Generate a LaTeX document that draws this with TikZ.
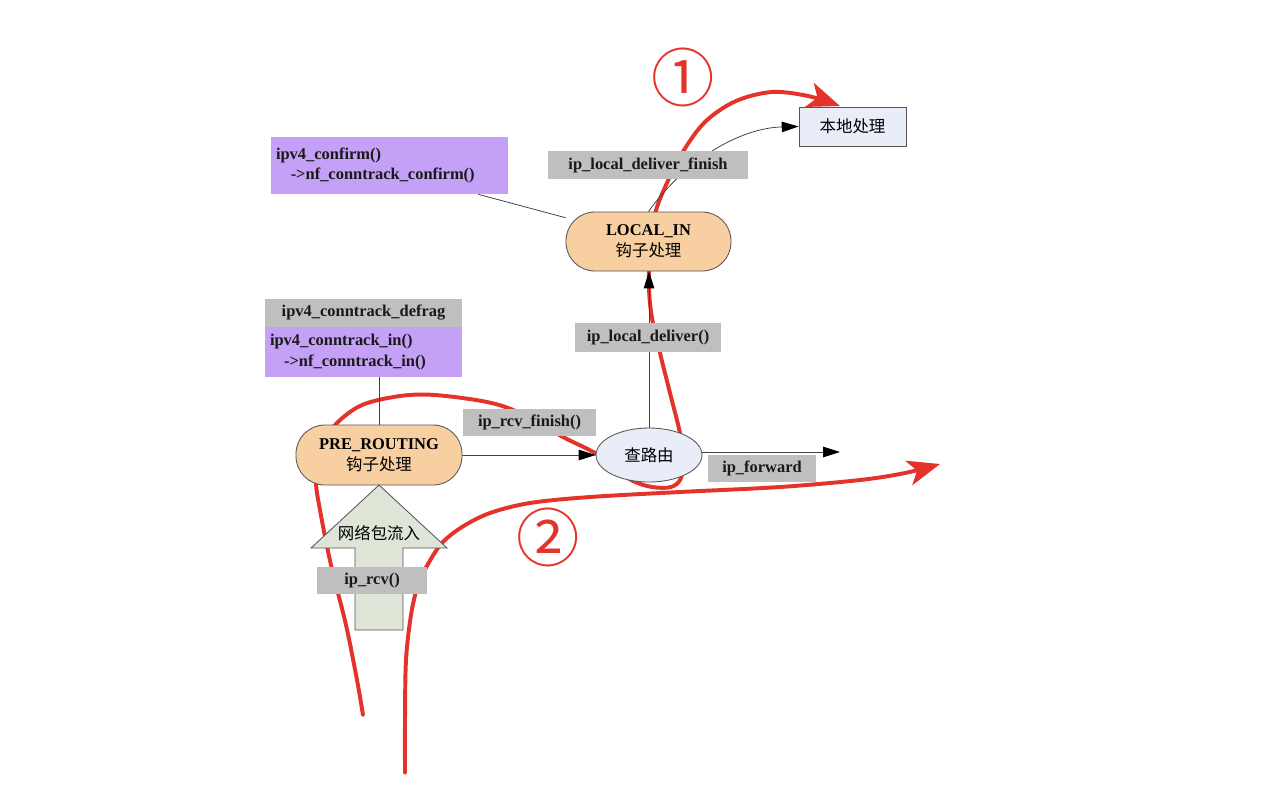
\documentclass[tikz,border=0pt]{standalone}
\usepackage{fontspec}
\setmainfont{Liberation Serif}
\newfontfamily\cjk{Noto Sans CJK SC}
\usetikzlibrary{arrows.meta,calc,shapes.geometric}
\definecolor{lblgray}{HTML}{BFBFBF}
\definecolor{purp}{HTML}{C4A0F6}
\definecolor{peach}{HTML}{F8CFA0}
\definecolor{lblue}{HTML}{E8EDF8}
\definecolor{pale}{HTML}{DEE5D6}
\definecolor{redc}{HTML}{E4332B}
\definecolor{edgec}{HTML}{555555}
\pgfdeclarelayer{back}
\pgfdeclarelayer{mid}
\pgfsetlayers{back,mid,main}
\newcommand{\lf}{\fontsize{11.7pt}{14.8pt}\selectfont}
\newcommand{\cf}{\cjk\fontsize{11.7pt}{14.8pt}\selectfont}
\begin{document}
\begin{tikzpicture}[x=0.025cm,y=-0.025cm,
  lbl/.style={fill=lblgray, inner sep=0pt, font=\lf\bfseries, text=black!90},
  purpbox/.style={fill=purp, inner xsep=5*0.025cm, inner ysep=0pt, font=\lf\bfseries, align=left, text=black!90},
  hook/.style={draw=edgec, fill=peach, rounded corners=0.72cm, line width=0.6pt, align=center, inner sep=0pt, font=\lf},
  conn/.style={draw=black!75, line width=0.55pt},
  tip/.style={-{Triangle[length=12pt,width=7.5pt,color=black,fill=black]}},
  redpath/.style={draw=redc, line width=2.8pt, line cap=round},
  redtip/.style={-{Stealth[length=23pt,width=18pt,inset=6pt]}},
  circnum/.style={text=redc, font=\cjk\fontsize{45pt}{45pt}\selectfont, inner sep=0pt}
]
\useasboundingbox (0,0) rectangle (1280,798);

% nodes
\node[purpbox, text width=227*0.025cm, minimum height=57*0.025cm] (conf) at (389.5,165.5)
  {ipv4\_confirm()\\\hspace*{10.5pt}->nf\_conntrack\_confirm()};
\node[lbl, minimum width=200*0.025cm, minimum height=28*0.025cm] (ldf) at (648,165) {ip\_local\_deliver\_finish};
\node[draw=edgec, fill=lblue, line width=0.6pt, minimum width=107*0.025cm, minimum height=39*0.025cm, inner sep=0pt, font=\cf] (local) at (852.5,126.5) {本地处理};
\node[hook, minimum width=165*0.025cm, minimum height=59*0.025cm] (localin) at (648.5,241.5)
  {\bfseries LOCAL\_IN\\{\cf 钩子处理}};
\node[lbl, minimum width=146*0.025cm, minimum height=29*0.025cm] (ld) at (648,337.5) {ip\_local\_deliver()};
\node[lbl, minimum width=197*0.025cm, minimum height=28*0.025cm] (defrag) at (363.5,313) {ipv4\_conntrack\_defrag};
\node[purpbox, text width=187*0.025cm, minimum height=50*0.025cm] (cin) at (363.5,352)
  {ipv4\_conntrack\_in()\\\hspace*{10pt}->nf\_conntrack\_in()};
\node[hook, minimum width=166*0.025cm, minimum height=60*0.025cm] (pre) at (379,455)
  {\bfseries PRE\_ROUTING\\{\cf 钩子处理}};
\node[lbl, minimum width=133*0.025cm, minimum height=27*0.025cm] (rcvfin) at (529.5,422.5) {ip\_rcv\_finish()};
\node[draw=edgec, fill=lblue, line width=0.6pt, ellipse, minimum width=106*0.025cm, minimum height=54*0.025cm, inner sep=0pt, font=\cf] (route) at (649,455) {查路由};
\node[lbl, minimum width=108*0.025cm, minimum height=27*0.025cm] (fwd) at (762,468.5) {ip\_forward};
\coordinate (fwdend) at (840,452);

% big arrow
\draw[draw=edgec, fill=pale, line width=0.6pt] (355,630) -- (355,548) -- (311,548) -- (379,485) -- (447,548) -- (403,548) -- (403,630) -- cycle;
\node[font=\cf, inner sep=0pt] (inflow) at (379,533) {网络包流入};
\node[lbl, minimum width=110*0.025cm, minimum height=27*0.025cm] (rcv) at (372,580.5) {ip\_rcv()};

% circled numbers
\node[circnum] (n1) at (683,77) {①};
\node[circnum] (n2) at (548,537) {②};

% connectors
\begin{pgfonlayer}{mid}
\draw[conn] (conf.-18) -- (localin.164);
\draw[conn] (pre.north) -- (pre.north |- cin.south);
\draw[conn, tip] (pre.east) -- (route.west);
\draw[conn, tip] (route.north) -- (route.north |- localin.south);
\draw[conn, tip] (route.east |- fwdend) -- (fwdend);
\draw[conn, tip] (localin.north) .. controls (685,160) and (740,128) .. (local.west);
\end{pgfonlayer}

% red paths
\begin{pgfonlayer}{back}
\coordinate (r1s) at (363,715);
\coordinate (r1e) at (840,106);
\coordinate (r2s) at (405,773);
\coordinate (r2e) at (940,464);
\draw[redpath, redtip] plot[smooth, tension=0.55] coordinates {(r1s) (357,680) (346,625) (331,565) (320,510) (316,480) (321,448) (336,424) (362,405) (400,396) (435,395) (487,402) (520,413) (563,437) (595,453) (615,469) (633,481) (652,487) (671,487) (681,478) (683,456) (680,433) (670,393) (660,353) (652,318) (649,288) (650,250) (655,214) (666,185) (684,150) (706,121) (736,101) (772,92) (808,96) (r1e)};
\draw[redpath, redtip] plot[smooth, tension=0.55] coordinates {(r2s) (405,720) (406,660) (411,615) (418,585) (428,564) (442,543) (462,527) (490,513) (530,503) (590,497) (680,492) (780,487) (860,480) (905,473) (r2e)};
\end{pgfonlayer}
\end{tikzpicture}
\end{document}
